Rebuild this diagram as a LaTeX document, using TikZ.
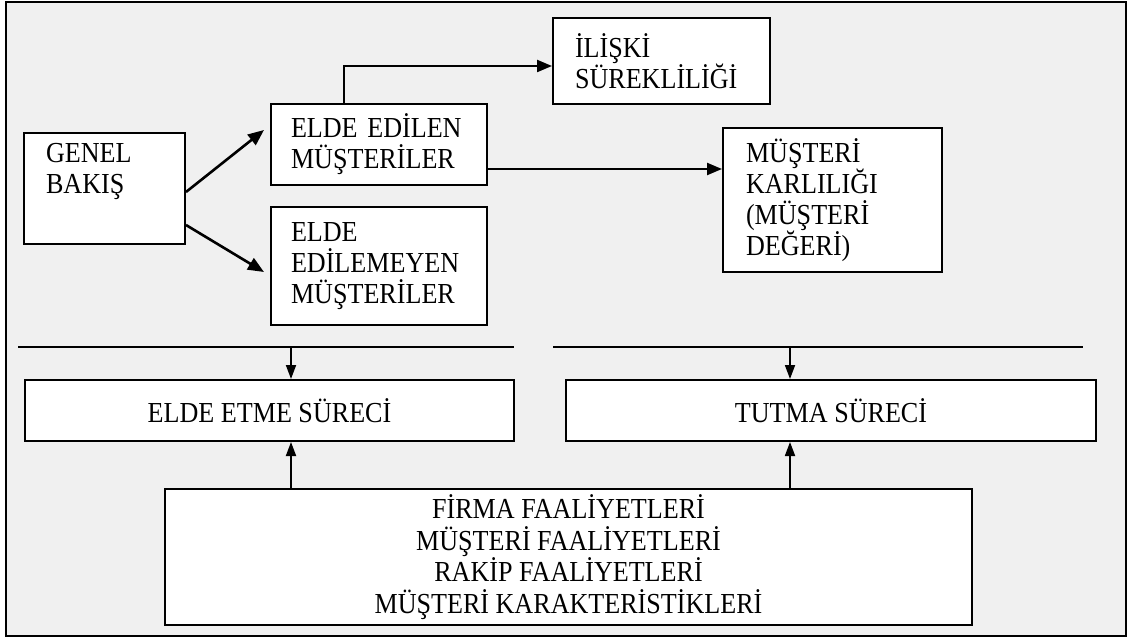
\documentclass[tikz,border=0pt]{standalone}
\usepackage{fontspec}
\setmainfont{Liberation Serif}[FakeStretch=0.9]
\usetikzlibrary{arrows.meta,calc}
\definecolor{bgc}{RGB}{240,240,240}
\tikzset{
  box/.style={draw=black, line width=2pt, fill=white, align=left, inner ysep=0pt,
    font=\fontsize{29}{31}\selectfont},
  cbox/.style={draw=black, line width=2pt, fill=white, align=center, inner sep=0pt,
    font=\fontsize{29}{31.5}\selectfont},
  arr/.style={line width=2.6pt, -{Triangle[length=16pt,width=13pt]}},
  midarr/.style={line width=2.2pt, -{Triangle[length=15pt,width=12pt]}},
  thinarr/.style={line width=1.8pt, -{Triangle[length=14pt,width=10pt]}},
  rule/.style={line width=1.8pt}
}
\begin{document}
\begin{tikzpicture}[x=1pt,y=-1pt]
\useasboundingbox (0,0) rectangle (1132,639);
\fill[white] (0,0) rectangle (1132,639);
\draw[line width=2.2pt, fill=bgc] (6,2) rectangle (1126,636);

\node[box, minimum width=161pt, minimum height=111pt, text width=117pt, inner xsep=22pt] (genel) at (104.5,188.5) {GENEL\\BAKIŞ\\\strut};
\node[box, minimum width=216pt, minimum height=81pt, text width=176pt, inner xsep=20pt] (edilen) at (379,144.5) {ELDE EDİLEN\\MÜŞTERİLER};
\node[box, minimum width=216pt, minimum height=118pt, text width=176pt, inner xsep=20pt] (edilemeyen) at (379,266) {ELDE\\EDİLEMEYEN\\MÜŞTERİLER};
\node[box, minimum width=217pt, minimum height=86pt, text width=173pt, inner xsep=22pt] (iliski) at (661.5,61) {İLİŞKİ\\SÜREKLİLİĞİ};
\node[box, minimum width=219pt, minimum height=144pt, text width=173pt, inner xsep=23pt] (karlilik) at (832.5,200) {MÜŞTERİ\\KARLILIĞI\\(MÜŞTERİ\\DEĞERİ)};

\node[cbox, minimum width=489pt, minimum height=61pt] (eldeetme) at (269.5,410.5) {ELDE ETME SÜRECİ};
\node[cbox, minimum width=530pt, minimum height=61pt] (tutma) at (831,410.5) {TUTMA SÜRECİ};
\node[cbox, minimum width=807pt, minimum height=136pt] (faal) at (568.5,557) {FİRMA FAALİYETLERİ\\MÜŞTERİ FAALİYETLERİ\\RAKİP FAALİYETLERİ\\MÜŞTERİ KARAKTERİSTİKLERİ};

\coordinate (l1a) at (18,347);
\coordinate (l1b) at (514,347);
\coordinate (l2a) at (553,347);
\coordinate (l2b) at (1083,347);
\coordinate (t1) at (291,347);
\coordinate (t2) at (790,347);
\draw[rule] (l1a) -- (l1b);
\draw[rule] (l2a) -- (l2b);

\draw[arr] ($(genel.east)+(0,3.5)$) -- ($(edilen.west)+(-6,-14.5)$);
\draw[arr] ($(genel.east)+(0,36.5)$) -- ($(edilemeyen.west)+(-6,6)$);
\draw[midarr] ($(edilen.north west)+(74,0)$) |- ($(iliski.west)+(0,5)$);
\draw[midarr] ($(edilen.east)+(0,24.5)$) -- ($(karlilik.west)+(0,-31)$);

\draw[thinarr] (t1) -- (eldeetme.north -| t1);
\draw[thinarr] (t2) -- (tutma.north -| t2);
\draw[thinarr] (faal.north -| t1) -- (eldeetme.south -| t1);
\draw[thinarr] (faal.north -| t2) -- (tutma.south -| t2);
\end{tikzpicture}
\end{document}
